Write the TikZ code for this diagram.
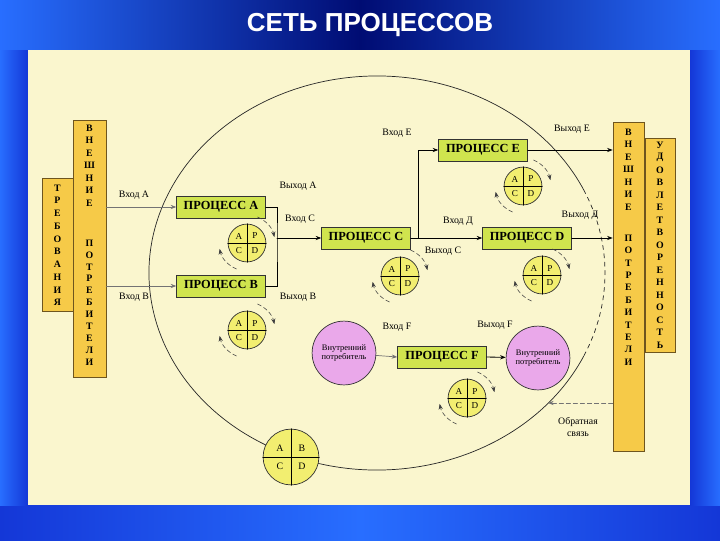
\documentclass[tikz,border=0pt]{standalone}
\usepackage{fontspec}
\setmainfont{Liberation Serif}
\newfontfamily\titlefont{Liberation Sans}
\usetikzlibrary{arrows.meta, calc}

\begin{document}
\begin{tikzpicture}[x=0.025cm, y=-0.025cm, >={Stealth[length=4pt, width=3pt]}, thin, line cap=round]

    % --- Definitions ---
    % Colors to match the slide
    \definecolor{bgblue}{RGB}{20, 55, 215}
    \definecolor{bgdark}{RGB}{0, 12, 115}
    \definecolor{bglight}{RGB}{40, 110, 255}
    \definecolor{panel}{RGB}{250, 246, 206}
    \definecolor{extyellow}{RGB}{246, 202, 72}
    \definecolor{extedge}{RGB}{110, 85, 30}
    \definecolor{procgreen}{RGB}{208, 228, 78}
    \definecolor{pdcayellow}{RGB}{242, 238, 112}
    \definecolor{userpink}{RGB}{234, 168, 234}

    \tikzset{
        extbox/.style={draw=extedge, fill=extyellow, line width=0.5pt, inner sep=0pt},
        letter/.style={font=\bfseries\fontsize{7}{8}\selectfont, inner sep=0pt},
        proc/.style={draw=black!80, fill=procgreen, line width=0.6pt, inner sep=0pt,
            minimum width=63pt, minimum height=15.6pt, font=\bfseries\fontsize{8.8}{9}\selectfont},
        pdca/.style={circle, draw=black!80, fill=pdcayellow, line width=0.5pt,
            minimum size=26.9pt, inner sep=0pt},
        pdcatext/.style={font=\fontsize{6.5}{7}\selectfont, inner sep=0pt},
        user/.style={circle, draw=black!80, fill=userpink, line width=0.5pt,
            minimum size=45.4pt, inner sep=0pt, align=center, font=\fontsize{6}{7}\selectfont},
        lbl/.style={font=\fontsize{7}{8}\selectfont, inner sep=0pt},
        ring/.style={line width=0.5pt, black!85},
        inarrow/.style={->, line width=0.5pt, black!55},
        flow/.style={->, line width=0.6pt},
        cyclearrow/.style={->, densely dashed, line width=0.4pt, black!75}
    }

    % PDCA circle: quadrants, letters and the two cycle arrows
    \def\pdca#1#2#3{%
        \node[pdca] (#1) at (#2,#3) {};
        \draw[line width=0.5pt] (#1.north) -- (#1.south);
        \draw[line width=0.5pt] (#1.west) -- (#1.east);
        \node[pdcatext] (#1a) at ([shift={(-8,-7)}]#1.center) {A};
        \node[pdcatext] (#1p) at ([shift={(8,-7)}]#1.center) {P};
        \node[pdcatext] (#1c) at ([shift={(-8,8)}]#1.center) {C};
        \node[pdcatext] (#1d) at ([shift={(8,8)}]#1.center) {D};
        \draw[cyclearrow] ([shift={(-68:28)}]#1.center) arc[start angle=-68, end angle=-12, radius=28];
        \draw[cyclearrow] ([shift={(112:28)}]#1.center) arc[start angle=112, end angle=168, radius=28];
    }

    \useasboundingbox (0,0) rectangle (720,540);

    % --- Background and title ---
    \fill[bgblue] (0,0) rectangle (720,540);
    \shade[left color=bglight, right color=bglight, middle color=bgdark] (0,0) rectangle (720,50);
    \shade[left color=bgblue, right color=bgblue, middle color=bglight] (0,505) rectangle (720,540);
    \shade[left color=bglight, right color=bgblue] (0,50) rectangle (28,505);
    \shade[left color=bgblue, right color=bglight] (690,50) rectangle (720,505);
    \fill[panel] (28,50) rectangle (690,505);
    \node[text=white, font=\titlefont\bfseries\fontsize{18.5}{20}\selectfont] (title) at (370,25) {СЕТЬ ПРОЦЕССОВ};

    % --- The process system (big ring) ---
    \coordinate (ctr) at (377,273);
    \draw[ring] ([shift={(25:228 and 197)}]ctr) arc[start angle=25, end angle=335, x radius=228, y radius=197];
    \draw[ring, dashed] ([shift={(-25:228 and 197)}]ctr) arc[start angle=-25, end angle=25, x radius=228, y radius=197];

    % --- Outer columns ---
    \node[extbox, minimum width=22pt, minimum height=95pt] (req) at (57.5,245) {};
    \node[extbox, minimum width=23.4pt, minimum height=183pt] (extL) at (89.5,249) {};
    \node[extbox, minimum width=22pt, minimum height=234pt] (extR) at (628.5,287) {};
    \node[extbox, minimum width=21.3pt, minimum height=152pt] (sat) at (660,245) {};

    \foreach \ch [count=\i from 0] in {Т,Р,Е,Б,О,В,А,Н,И,Я}
        \node[letter] (req\i) at (57.5,{188+12.75*\i}) {\ch};
    \foreach \ch [count=\i from 0] in {В,Н,Е,Ш,Н,И,Е}
        \node[letter] (extLa\i) at (89.5,{128+12.5*\i}) {\ch};
    \foreach \ch [count=\i from 0] in {П,О,Т,Р,Е,Б,И,Т,Е,Л,И}
        \node[letter] (extLb\i) at (89.5,{243+11.9*\i}) {\ch};
    \foreach \ch [count=\i from 0] in {В,Н,Е,Ш,Н,И,Е}
        \node[letter] (extRa\i) at (628.5,{132+12.5*\i}) {\ch};
    \foreach \ch [count=\i from 0] in {П,О,Т,Р,Е,Б,И,Т,Е,Л,И}
        \node[letter] (extRb\i) at (628.5,{238+12.4*\i}) {\ch};
    \foreach \ch [count=\i from 0] in {У,Д,О,В,Л,Е,Т,В,О,Р,Е,Н,Н,О,С,Т,Ь}
        \node[letter] (sat\i) at (660,{145+12.5*\i}) {\ch};

    % --- Internal consumers ---
    \node[user] (userL) at (344,353) {Внутренний\\потребитель};
    \node[user] (userR) at (538,358) {Внутренний\\потребитель};

    % --- Processes ---
    \node[proc] (A) at (221,207) {ПРОЦЕСС А};
    \node[proc] (B) at (221,286) {ПРОЦЕСС В};
    \node[proc] (C) at (366,238) {ПРОЦЕСС С};
    \node[proc] (D) at (527,238) {ПРОЦЕСС D};
    \node[proc] (E) at (483,150) {ПРОЦЕСС Е};
    \node[proc] (F) at (442,357) {ПРОЦЕСС F};

    % --- PDCA cycles ---
    \pdca{pA}{247}{243}
    \pdca{pB}{247}{330}
    \pdca{pC}{400}{276}
    \pdca{pD}{542}{275}
    \pdca{pE}{523}{186}
    \pdca{pF}{467}{398}

    % Big cycle on the ring
    \node[pdca, minimum size=39.7pt] (pG) at (291,457) {};
    \draw[line width=0.5pt] (pG.north) -- (pG.south);
    \draw[line width=0.5pt] (pG.west) -- (pG.east);
    \node[pdcatext, font=\fontsize{7}{8}\selectfont] (pGa) at ([shift={(-11,-9)}]pG.center) {A};
    \node[pdcatext, font=\fontsize{7}{8}\selectfont] (pGb) at ([shift={(11,-9)}]pG.center) {B};
    \node[pdcatext, font=\fontsize{7}{8}\selectfont] (pGc) at ([shift={(-11,9)}]pG.center) {C};
    \node[pdcatext, font=\fontsize{7}{8}\selectfont] (pGd) at ([shift={(11,9)}]pG.center) {D};

    % --- Flows ---
    \draw[inarrow] (extL.east |- A.west) -- (A.west);
    \draw[inarrow] (extL.east |- B.west) -- (B.west);

    \coordinate (jAB) at (277,238);
    \draw[line width=0.6pt] (A.east) -| (jAB) |- (B.east);
    \draw[flow] (jAB) -- (C.west);

    \draw[flow] (C.east) -- (D.west);
    \coordinate (jCE) at (418,238);
    \draw[flow] (jCE) |- (E.west);

    \draw[flow] (E.east) -- (E.east -| extR.west);
    \draw[flow] (D.east) -- (D.east -| extR.west);

    \draw[inarrow] (userL) -- (F.west);
    \draw[flow] (F.east) -- (userR);

    \coordinate (fb) at (548,403);
    \draw[inarrow, densely dashed] (extR.west |- fb) -- (fb);

    % --- Labels ---
    \node[lbl] (lInA) at (134,195) {Вход А};
    \node[lbl] (lInB) at (134,297) {Вход В};
    \node[lbl] (lOutA) at (298,186) {Выход А};
    \node[lbl] (lInC) at (300,219) {Вход С};
    \node[lbl] (lOutB) at (298,297) {Выход В};
    \node[lbl] (lInE) at (397,133) {Вход Е};
    \node[lbl] (lOutE) at (572,129) {Выход Е};
    \node[lbl] (lInD) at (458,221) {Вход Д};
    \node[lbl] (lOutC) at (443,251) {Выход С};
    \node[lbl] (lOutD) at (580,215) {Выход Д};
    \node[lbl] (lInF) at (397,327) {Вход F};
    \node[lbl] (lOutF) at (495,325) {Выход F};
    \node[lbl, align=center] (lFb) at (578,427) {Обратная\\связь};

\end{tikzpicture}
\end{document}
